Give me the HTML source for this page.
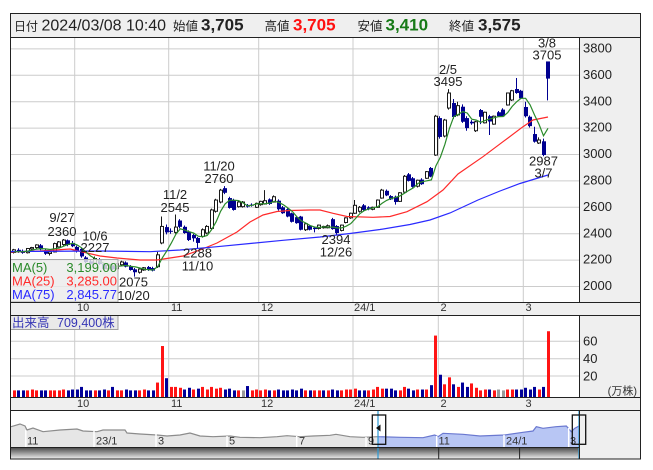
<!DOCTYPE html>
<html><head><meta charset="utf-8">
<style>
html,body{margin:0;padding:0;background:#fff;}
svg{display:block;}
text{font-family:"Liberation Sans","Noto Sans CJK JP",sans-serif;}
</style></head>
<body>
<svg id="c" width="653" height="470" viewBox="0 0 653 470" xmlns="http://www.w3.org/2000/svg">
<defs>
<clipPath id="pc"><rect x="11" y="38" width="568" height="264"/></clipPath>
<clipPath id="vc"><rect x="11" y="316" width="568" height="81"/></clipPath>
<clipPath id="nl"><rect x="11" y="411" width="367" height="36"/></clipPath>
<clipPath id="nr"><rect x="378" y="411" width="201" height="36"/></clipPath>
<linearGradient id="sg" x1="0" y1="0" x2="0" y2="1"><stop offset="0" stop-color="#484848"/><stop offset="1" stop-color="#f0f0f0"/></linearGradient>
</defs>
<rect width="653" height="470" fill="#fff"/>

<!-- header -->
<rect x="10.5" y="13.5" width="630" height="24" fill="#efefef"/>
<g fill="#222">
<text x="14" y="30.5" font-size="12">日付</text>
<text x="41.5" y="30.5" font-size="16">2024/03/08 10:40</text>
<text x="173" y="30.5" font-size="12.5">始値</text>
<text x="201" y="30.5" font-size="17" font-weight="bold">3,705</text>
<text x="264.5" y="30.5" font-size="12.5">高値</text>
<text x="293" y="30.5" font-size="17" font-weight="bold" fill="#ff1010">3,705</text>
<text x="357.5" y="30.5" font-size="12.5">安値</text>
<text x="385.5" y="30.5" font-size="17" font-weight="bold" fill="#177a17">3,410</text>
<text x="449" y="30.5" font-size="12.5">終値</text>
<text x="478" y="30.5" font-size="17" font-weight="bold">3,575</text>
</g>

<!-- right panel & strips -->
<rect x="579.5" y="37.5" width="61" height="421.5" fill="#efefef"/>
<rect x="10.5" y="302.5" width="630" height="13" fill="#efefef"/>
<rect x="10.5" y="397.5" width="630" height="13" fill="#efefef"/>

<!-- price gridlines -->
<g stroke="#cccccc" stroke-width="1" id="pgrid"></g>
<!-- volume gridlines -->
<g stroke="#cccccc" stroke-width="1">
<line x1="11" x2="579" y1="341.3" y2="341.3"/>
<line x1="11" x2="579" y1="358.7" y2="358.7"/>
<line x1="11" x2="579" y1="376" y2="376"/>
<line x1="74.7" x2="74.7" y1="316" y2="397"/>
<line x1="168.7" x2="168.7" y1="316" y2="397"/>
<line x1="258.7" x2="258.7" y1="316" y2="397"/>
<line x1="353" x2="353" y1="316" y2="397"/>
<line x1="438.3" x2="438.3" y1="316" y2="397"/>
<line x1="523.3" x2="523.3" y1="316" y2="397"/>
</g>

<g id="candles" clip-path="url(#pc)"></g>
<g id="mas" clip-path="url(#pc)" fill="none" stroke-width="1.2">
<polyline id="ma25" stroke="#ff2a2a" points="11,252 40,251 70,249 87,253 100,256 117,258 140,260 157,260 170,258 183,256 200,250 217,243 237,232 250,222 263,215 277,211.5 290,210.5 310,210 320,210 333,213.3 347,216.5 373,217.3 390,216.5 407,211.7 427,201.7 443,190 458,174 483,156.7 503,141.7 523,126.7 533,120 548,117"/>
<polyline id="ma75" stroke="#2a2aff" points="11,251.5 100,251 150,251.7 180,250 217,246.7 250,243.5 283,240.3 320,237 350,233.5 380,229.5 410,224.5 430,220 450,213 478,200 500,191 520,183.5 548,175"/>
<polyline id="ma5" stroke="#2a8a2a" points=""/>
</g>
<g id="vols" clip-path="url(#vc)"></g>

<!-- annotations -->
<g font-size="13" fill="#222" text-anchor="middle">
<text x="62" y="222">9/27</text><text x="62" y="236">2360</text>
<text x="95" y="240.5">10/6</text><text x="95" y="252">2227</text>
<text x="133.5" y="286.5">2075</text><text x="133.5" y="300">10/20</text>
<text x="175" y="199">11/2</text><text x="175" y="212">2545</text>
<text x="219" y="170.5">11/20</text><text x="219" y="183">2760</text>
<text x="197.5" y="257.5">2288</text><text x="197.5" y="270.5">11/10</text>
<text x="336" y="244">2394</text><text x="336" y="256.5">12/26</text>
<text x="448" y="74">2/5</text><text x="448" y="86">3495</text>
<text x="547" y="47.5">3/8</text><text x="547" y="59.5">3705</text>
<text x="543.5" y="165.5">2987</text><text x="543.5" y="177.5">3/7</text>
</g>

<!-- MA legend -->
<rect x="10.5" y="259.5" width="107.5" height="42.5" fill="rgba(236,236,236,0.82)" stroke="#a8a8a8"/>
<g font-size="13">
<text x="12" y="272" fill="#2a8a2a">MA(5)</text><text x="117" y="272" fill="#2a8a2a" text-anchor="end">3,199.00</text>
<text x="12" y="285.5" fill="#ff2a2a">MA(25)</text><text x="117" y="285.5" fill="#ff2a2a" text-anchor="end">3,285.00</text>
<text x="12" y="299" fill="#2a2aff">MA(75)</text><text x="117" y="299" fill="#2a2aff" text-anchor="end">2,845.77</text>
</g>

<!-- price axis labels -->
<g font-size="13" fill="#222" id="plabels"></g>

<!-- strips labels -->
<g font-size="11" fill="#333">
<text x="77" y="311">10</text><text x="171" y="311">11</text><text x="261" y="311">12</text><text x="354" y="311">24/1</text><text x="440.5" y="311">2</text><text x="525.5" y="311">3</text>
<text x="77" y="407">10</text><text x="171" y="407">11</text><text x="261" y="407">12</text><text x="354" y="407">24/1</text><text x="440.5" y="407">2</text><text x="525.5" y="407">3</text>
</g>

<!-- volume label & axis -->
<rect x="10.5" y="315.5" width="107.5" height="14" fill="#e9e9e9" stroke="#a0a0a0"/>
<text x="12" y="327" font-size="12.5" fill="#3535b5">出来高</text>
<text x="57" y="327" font-size="12.5" fill="#3535b5">709,400株</text>
<g font-size="13" fill="#222">
<text x="583" y="345.5">60</text><text x="583" y="363">40</text><text x="583" y="380.3">20</text>
</g>
<text x="637" y="394.5" font-size="11" fill="#333" text-anchor="end">(万株)</text>

<!-- navigator -->
<rect x="11" y="411" width="568" height="36.5" fill="#fff"/>
<g id="nav"></g>
<g stroke="#fff" stroke-width="1.5">
<line x1="25.8" x2="25.8" y1="430" y2="447"/><line x1="94" x2="94" y1="431" y2="447"/><line x1="156" x2="156" y1="434" y2="447"/><line x1="227" x2="227" y1="436" y2="447"/><line x1="296.7" x2="296.7" y1="436" y2="447"/><line x1="366" x2="366" y1="437" y2="447"/><line x1="436.7" x2="436.7" y1="436" y2="447"/><line x1="504" x2="504" y1="435" y2="447"/><line x1="568.7" x2="568.7" y1="428" y2="447"/>
</g>
<g font-size="11" fill="#333">
<text x="27" y="444.5">11</text><text x="96" y="444.5">23/1</text><text x="158" y="444.5">3</text><text x="229" y="444.5">5</text><text x="299" y="444.5">7</text><text x="368" y="444.5">9</text><text x="438.5" y="444.5">11</text><text x="506" y="444.5">24/1</text><text x="570" y="444.5">3</text>
</g>
<rect x="10.5" y="447.5" width="569" height="11.5" fill="url(#sg)"/>
<g stroke="#222" stroke-width="1">
<line x1="438.7" x2="438.7" y1="447.5" y2="459"/>
<line x1="519.6" x2="519.6" y1="447.5" y2="459"/>
</g>
<g stroke="#2a9ad6" stroke-width="1.2">
<line x1="378" x2="378" y1="411" y2="459"/>
<line x1="579" x2="579" y1="411" y2="459"/>
</g>
<g fill="none" stroke="#111" stroke-width="1.3">
<rect x="372.3" y="415" width="13.4" height="29.3"/>
<rect x="572.3" y="415" width="13.4" height="29.3"/>
</g>
<polygon points="376,428 380.5,424.5 380.5,431.5" fill="#111"/>

<!-- frame lines -->
<g stroke="#222" stroke-width="1" fill="none">
<rect x="10.5" y="13.5" width="630" height="445.5"/>
<line x1="10.5" x2="640.5" y1="37.5" y2="37.5"/>
<line x1="10.5" x2="640.5" y1="302.5" y2="302.5"/>
<line x1="10.5" x2="640.5" y1="315.5" y2="315.5"/>
<line x1="10.5" x2="640.5" y1="397.5" y2="397.5"/>
<line x1="10.5" x2="640.5" y1="410.5" y2="410.5"/>
<line x1="10.5" x2="579.5" y1="447.5" y2="447.5"/>
<line x1="579.5" x2="579.5" y1="37.5" y2="302.5"/>
<line x1="579.5" x2="579.5" y1="315.5" y2="397.5"/>
<line x1="579.5" x2="579.5" y1="410.5" y2="459"/>
</g>
</svg>
<script>
(function(){
var NS="http://www.w3.org/2000/svg";
function el(parent,tag,attrs,txt){var e=document.createElementNS(NS,tag);for(var k in attrs)e.setAttribute(k,attrs[k]);if(txt)e.textContent=txt;parent.appendChild(e);return e;}
function X(g){return -12.6+4.485*g;}
function Y(p){return 154.5-(p-3000)*0.132;}
var d=[
[2,2265,2275,2250,2260,3],[3,2260,2270,2245,2255,3],[4,2255,2270,2240,2265,3],[5,2262,2275,2250,2258,3],
[6,2258,2285,2250,2278,3],[7,2278,2290,2255,2262,3],[8,2262,2280,2248,2256,3],[9,2256,2292,2250,2288,3],
[10,2285,2300,2270,2295,4],[11,2295,2320,2285,2315,3],[12,2312,2322,2275,2280,3],[13,2275,2285,2240,2248,3],
[14,2250,2268,2235,2262,3],[15,2262,2332,2258,2325,3],[16,2300,2345,2295,2338,3],[17,2318,2360,2310,2352,4],
[18,2350,2356,2305,2315,3],[19,2330,2345,2298,2305,4],[20,2300,2310,2258,2265,4],[21,2285,2292,2218,2228,7],
[22,2220,2230,2175,2185,3],[23,2190,2205,2165,2172,3],[24,2178,2227,2170,2212,3],[25,2205,2215,2165,2170,3],
[26,2170,2180,2125,2132,4],[27,2135,2168,2128,2160,3],[28,2160,2170,2125,2130,7],[29,2135,2178,2130,2172,3],
[30,2165,2195,2158,2186,3],[31,2182,2190,2145,2150,4],[32,2155,2162,2120,2125,3],[33,2130,2140,2075,2108,3],
[34,2108,2140,2098,2132,3],[35,2125,2148,2118,2142,4],[36,2148,2155,2118,2125,3],[37,2140,2150,2115,2120,3],
[38,2150,2262,2140,2240,12],[39,2330,2530,2320,2455,54],[40,2450,2470,2395,2410,17],[41,2422,2440,2400,2418,7],
[42,2410,2545,2400,2450,7],[43,2500,2510,2440,2452,6],[44,2452,2462,2400,2405,4],[45,2415,2425,2345,2352,6],
[46,2390,2400,2340,2365,4],[47,2368,2375,2288,2330,5],[48,2380,2440,2370,2430,7],[49,2405,2465,2395,2455,4],
[50,2440,2590,2430,2580,7],[51,2570,2665,2560,2655,5],[52,2640,2740,2630,2730,6],[53,2745,2760,2700,2710,4],
[54,2670,2680,2590,2595,5],[55,2655,2665,2575,2580,3],[56,2605,2648,2598,2640,3],[57,2605,2648,2598,2640,3],
[58,2618,2625,2598,2605,8],[59,2620,2630,2605,2612,3],[60,2600,2635,2595,2630,4],[61,2620,2650,2612,2645,3],
[62,2625,2730,2620,2650,4],[63,2660,2668,2618,2625,3],[64,2640,2690,2635,2680,3],[65,2650,2660,2575,2585,4],
[66,2600,2610,2550,2555,3],[67,2585,2592,2525,2530,3],[68,2555,2560,2485,2490,4],[69,2525,2530,2475,2480,3],
[70,2530,2535,2425,2430,5],[71,2430,2480,2420,2475,3],[72,2460,2468,2425,2430,3],[73,2445,2455,2410,2435,3],
[74,2440,2470,2432,2465,3],[75,2445,2460,2438,2455,3],[76,2445,2470,2440,2460,3],[77,2510,2520,2430,2435,4],
[78,2458,2465,2394,2405,3],[79,2425,2470,2418,2465,3],[80,2485,2525,2478,2520,4],[81,2520,2560,2512,2555,4],
[82,2555,2655,2550,2615,5],[83,2570,2610,2560,2600,3],[84,2615,2625,2575,2580,3],[85,2600,2608,2578,2585,3],
[86,2585,2605,2578,2600,4],[87,2600,2660,2595,2655,7],[88,2670,2740,2665,2730,5],[89,2725,2735,2685,2690,5],
[90,2685,2692,2655,2660,5],[91,2680,2688,2620,2640,3],[92,2645,2715,2640,2710,3],[93,2715,2845,2710,2835,7],
[94,2850,2860,2795,2800,5],[95,2820,2830,2750,2755,3],[96,2760,2810,2750,2805,4],[97,2810,2820,2770,2775,4],
[98,2820,2875,2815,2870,4],[99,2898,2905,2828,2832,9],[100,2996,3300,2990,3290,66],[101,3276,3290,3120,3133,21],
[102,3140,3270,3130,3261,10],[103,3352,3495,3340,3466,18],[104,3390,3420,3270,3284,10],[105,3300,3400,3290,3370,7],
[106,3362,3380,3240,3248,12],[107,3276,3290,3180,3200,7],[108,3248,3260,3225,3236,11],[109,3180,3255,3170,3248,6],
[110,3337,3345,3230,3286,3],[111,3240,3325,3235,3320,4],[112,3290,3300,3148,3250,4],[113,3230,3295,3225,3290,3],
[114,3320,3330,3285,3290,4],[115,3340,3350,3285,3290,3],[116,3375,3470,3370,3466,4],[117,3413,3490,3405,3483,4],
[118,3496,3580,3460,3466,4],[119,3483,3490,3420,3425,4],[120,3360,3400,3280,3290,6],[121,3286,3295,3205,3215,4],
[122,3155,3210,3090,3097,7],[123,3087,3130,3080,3110,4],[124,3100,3120,2987,2996,7],[125,3705,3705,3410,3575,71]
];
var pg=document.getElementById('pgrid'), pl=document.getElementById('plabels');
for(var p=2000;p<=3800;p+=200){var y=Y(p);el(pg,'line',{x1:11,x2:579,y1:y,y2:y});el(pl,'text',{x:583,y:(y+3.6).toFixed(1)},String(p));}
[74.7,168.7,258.7,353,438.3,523.3].forEach(function(x){el(pg,'line',{x1:x,x2:x,y1:38,y2:302});});
var cg=document.getElementById('candles'), vg=document.getElementById('vols');
for(var i=0;i<d.length;i++){
 var g=d[i][0],o=d[i][1],h=d[i][2],l=d[i][3],c=d[i][4],v=d[i][5];
 var cx=Math.round(X(g)), left=cx-2, up=c>o;
 var col=up?'#1a1a1a':'#000090';
 el(cg,'line',{x1:left+1.5,x2:left+1.5,y1:Y(h),y2:Y(l),stroke:col,'stroke-width':1});
 var top=Y(Math.max(o,c)), bot=Y(Math.min(o,c)), hh=Math.max(bot-top,1);
 if(up){el(cg,'rect',{x:left+0.5,y:top,width:3,height:hh,fill:'#fff',stroke:'#1a1a1a','stroke-width':1});}
 else{el(cg,'rect',{x:left,y:top,width:4,height:hh,fill:'#000090'});}
 var pc=i>0?d[i-1][4]:c;
 var vc=c>pc?'#ff1414':(c<pc?'#000099':'#9a9a9a');
 var vt=393-v*0.87;
 el(vg,'rect',{x:Math.round(X(g)-1.5),y:vt,width:3,height:397-vt,fill:vc});
}
var pts=[];
for(var i=4;i<d.length;i++){var s=0;for(var k=0;k<5;k++)s+=d[i-k][4];pts.push(X(d[i][0]).toFixed(1)+','+Y(s/5).toFixed(1));}
document.getElementById('ma5').setAttribute('points',pts.join(' '));
var np="11,426.7 20,424 25,426 27,430 33,428 43,431.7 60,430 77,429 83,431 97,431.7 103,430 125,430 127,433 140,434 157,435 167,436 180,435 190,433 200,436 213,436.7 230,436 240,437.3 260,437.7 277,436.7 287,435.7 300,436.7 313,436 330,435.3 336,434.3 350,436.7 363,437.3 378,436.7 400,437.3 423,437.7 434.7,435 438,436.7 443,433.3 463,434.3 480,436 504.7,435 523,432.3 533,431 536.3,426.7 543,428.3 556,426.7 566.3,426 571.3,431.7 574.7,428.3 579,426";
var nav=document.getElementById('nav');
var poly=np+" 579,447.5 11,447.5";
var gl=el(nav,'g',{'clip-path':'url(#nl)'});
el(gl,'polygon',{points:poly,fill:'#e6e6e6'});
el(gl,'polyline',{points:np,fill:'none',stroke:'#8c8c8c','stroke-width':1.2});
var gr=el(nav,'g',{'clip-path':'url(#nr)'});
el(gr,'polygon',{points:poly,fill:'#b8c6f4'});
el(gr,'polyline',{points:np,fill:'none',stroke:'#6a78d0','stroke-width':1.2});
})();
</script>
</body></html>
